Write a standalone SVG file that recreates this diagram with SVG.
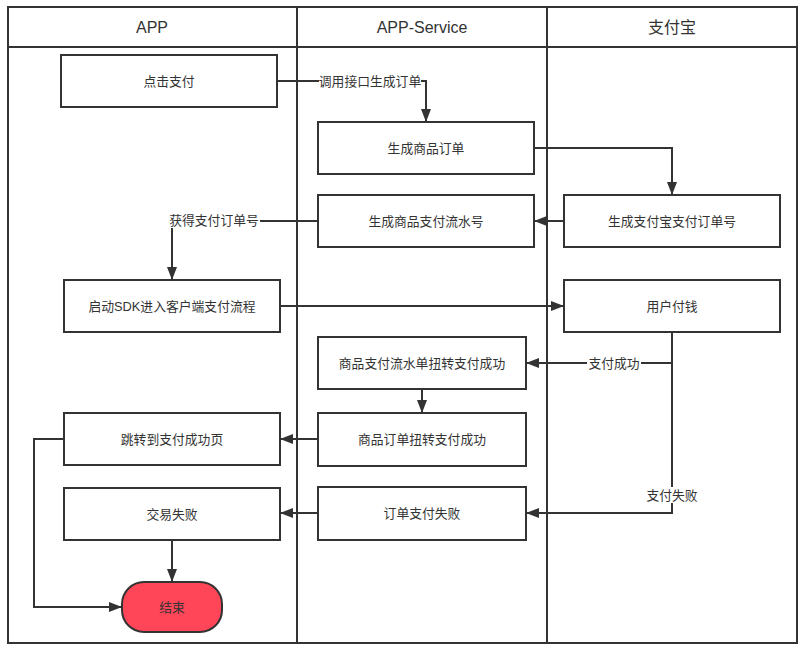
<svg xmlns="http://www.w3.org/2000/svg" width="802" height="649" viewBox="0 0 802 649">
<style>
text{font-family:"Liberation Sans","Noto Sans CJK SC",sans-serif;fill:#333;text-anchor:middle;dominant-baseline:central}
.hd{font-size:16px}
.t{font-size:12.8px}
.box{fill:#fff;stroke:#333;stroke-width:2}
.lane{fill:none;stroke:#333;stroke-width:2}
.c{fill:none;stroke:#333;stroke-width:2}
.lb{fill:#fff}
</style>
<defs>
<marker id="ah" markerUnits="userSpaceOnUse" markerWidth="14" markerHeight="12" refX="13" refY="6" orient="auto">
<path d="M0,1 L13,6 L0,11 z" fill="#333"/>
</marker>
</defs>
<rect width="802" height="649" fill="#fff"/>
<g id="pool">
<rect class="lane" x="8" y="7" width="789" height="636"/>
<line class="lane" x1="8" y1="47" x2="797" y2="47"/>
<line class="lane" x1="297" y1="7" x2="297" y2="643"/>
<line class="lane" x1="547" y1="7" x2="547" y2="643"/>
<text class="hd" x="152" y="27">APP</text>
<text class="hd" x="422" y="27">APP-Service</text>
<text class="hd" x="672" y="27">支付宝</text>
</g>
<g id="connectors">
<path class="c" d="M277,81 H426 V122" marker-end="url(#ah)"/>
<path class="c" d="M534,148 H672 V195" marker-end="url(#ah)"/>
<path class="c" d="M564,221 H534" marker-end="url(#ah)"/>
<path class="c" d="M318,221 H172 V280" marker-end="url(#ah)"/>
<path class="c" d="M280,306 H564" marker-end="url(#ah)"/>
<path class="c" d="M672,332 V363 H526" marker-end="url(#ah)"/>
<path class="c" d="M672,363 V513 H526" marker-end="url(#ah)"/>
<path class="c" d="M422,389 V413" marker-end="url(#ah)"/>
<path class="c" d="M318,439 H280" marker-end="url(#ah)"/>
<path class="c" d="M318,513 H280" marker-end="url(#ah)"/>
<path class="c" d="M172,540 V582" marker-end="url(#ah)"/>
<path class="c" d="M64,439 H34 V607 H122" marker-end="url(#ah)"/>
<rect class="lb" x="319" y="73" width="102" height="16"/>
<text class="t" x="370" y="81">调用接口生成订单</text>
<rect class="lb" x="168" y="212" width="92" height="16"/>
<text class="t" x="214" y="220">获得支付订单号</text>
<rect class="lb" x="587" y="355" width="54" height="16"/>
<text class="t" x="614" y="363">支付成功</text>
<rect class="lb" x="645" y="487" width="54" height="16"/>
<text class="t" x="672" y="495">支付失败</text>
</g>
<g id="n1"><rect class="box" x="61" y="55" width="216" height="52"/><text class="t" x="169" y="81">点击支付</text></g>
<g id="n2"><rect class="box" x="318" y="122" width="216" height="52"/><text class="t" x="426" y="148">生成商品订单</text></g>
<g id="n3"><rect class="box" x="318" y="195" width="216" height="52"/><text class="t" x="426" y="221">生成商品支付流水号</text></g>
<g id="n4"><rect class="box" x="564" y="195" width="216" height="52"/><text class="t" x="672" y="221">生成支付宝支付订单号</text></g>
<g id="n5"><rect class="box" x="64" y="280" width="216" height="52"/><text class="t" x="172" y="306">启动SDK进入客户端支付流程</text></g>
<g id="n6"><rect class="box" x="564" y="280" width="216" height="52"/><text class="t" x="672" y="306">用户付钱</text></g>
<g id="n7"><rect class="box" x="318" y="337" width="208" height="52"/><text class="t" x="422" y="363">商品支付流水单扭转支付成功</text></g>
<g id="n8"><rect class="box" x="318" y="413" width="208" height="53"/><text class="t" x="422" y="439">商品订单扭转支付成功</text></g>
<g id="n9"><rect class="box" x="318" y="487" width="208" height="53"/><text class="t" x="422" y="513">订单支付失败</text></g>
<g id="n10"><rect class="box" x="64" y="413" width="216" height="52"/><text class="t" x="172" y="439">跳转到支付成功页</text></g>
<g id="n11"><rect class="box" x="64" y="488" width="216" height="52"/><text class="t" x="172" y="514">交易失败</text></g>
<g id="n12"><rect x="122" y="582" width="100" height="50" rx="22" ry="22" fill="#ff4558" stroke="#333" stroke-width="2"/><text class="t" x="172" y="607">结束</text></g>
</svg>
